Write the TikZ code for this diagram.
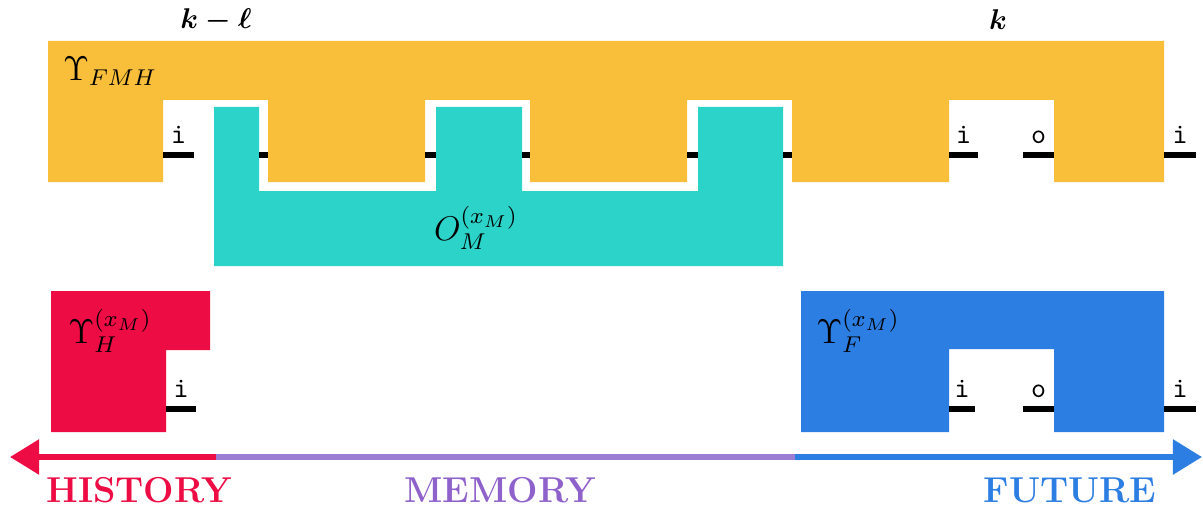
\documentclass[tikz,border=0pt]{standalone}
\usepackage{xcolor}
\usepackage{amsmath}
\usepackage{amssymb}
\usepackage{tikz}
\usetikzlibrary{arrows.meta}

\definecolor{fmhorange}{HTML}{F9BE3A}
\definecolor{memteal}{HTML}{2CD3C8}
\definecolor{histred}{HTML}{ED0C43}
\definecolor{futblue}{HTML}{2C7EE2}
\definecolor{mempurple}{HTML}{9B7ED3}
\definecolor{memtext}{HTML}{8F62CB}

\tikzset{
    wire/.style={line width=2.1pt},
    axis/.style={line width=2.1pt},
    port/.style={above, font=\ttfamily, inner sep=3pt},
    combname/.style={font=\large},
    timetip/.tip={Triangle[length=10.2pt,width=11.9pt]},
    era/.style={font=\fontsize{12.6}{15}\selectfont\bfseries}
}

\begin{document}
\begin{tikzpicture}[x=0.35pt,y=-0.35pt]
        \useasboundingbox (0,0) rectangle (1203,506);

        % combs
        \fill[fmhorange] (48,41) -- (1164,41) -- (1164,182) -- (1054,182) -- (1054,100)
            -- (949,100) -- (949,182) -- (792,182) -- (792,100) -- (687,100) -- (687,182)
            -- (530,182) -- (530,100) -- (425,100) -- (425,182) -- (268,182) -- (268,100)
            -- (163,100) -- (163,182) -- (48,182) -- cycle;
        \fill[memteal] (214,107) -- (259,107) -- (259,191) -- (436,191) -- (436,107)
            -- (522,107) -- (522,191) -- (698,191) -- (698,107) -- (783,107)
            -- (783,266) -- (214,266) -- cycle;
        \fill[histred] (51,291) -- (210,291) -- (210,350) -- (166,350) -- (166,432)
            -- (51,432) -- cycle;
        \fill[futblue] (801,291) -- (1164,291) -- (1164,432) -- (1054,432) -- (1054,349)
            -- (949,349) -- (949,432) -- (801,432) -- cycle;

        \node[combname] (fmh) at (110,71) {$\Upsilon_{FMH}$};
        \node[combname] (om) at (476,228) {$O_M^{(x_M)}$};
        \node[combname] (hist) at (110,331) {$\Upsilon_H^{(x_M)}$};
        \node[combname] (fut) at (858,331) {$\Upsilon_F^{(x_M)}$};
        \node (kl) at (216,20) {$\boldsymbol{k-\ell}$};
        \node (k) at (998,20) {$\boldsymbol{k}$};

        % wires of the upper row
        \coordinate (a1) at (163,155);
        \coordinate (a2) at (194,155);
        \coordinate (b1) at (259,155);
        \coordinate (b2) at (268,155);
        \coordinate (c1) at (425,155);
        \coordinate (c2) at (436,155);
        \coordinate (d1) at (522,155);
        \coordinate (d2) at (530,155);
        \coordinate (e1) at (687,155);
        \coordinate (e2) at (698,155);
        \coordinate (f1) at (783,155);
        \coordinate (f2) at (792,155);
        \coordinate (g1) at (949,155);
        \coordinate (g2) at (978,155);
        \coordinate (h1) at (1023,155);
        \coordinate (h2) at (1054,155);
        \coordinate (j1) at (1164,155);
        \coordinate (j2) at (1196,155);

        \draw[wire] (a1) -- node[port] {i} (a2);
        \draw[wire] (b1) -- (b2);
        \draw[wire] (c1) -- (c2);
        \draw[wire] (d1) -- (d2);
        \draw[wire] (e1) -- (e2);
        \draw[wire] (f1) -- (f2);
        \draw[wire] (g1) -- node[port] {i} (g2);
        \draw[wire] (h1) -- node[port] {o} (h2);
        \draw[wire] (j1) -- node[port] {i} (j2);

        % wires of the lower row
        \coordinate (p1) at (166,409);
        \coordinate (p2) at (196,409);
        \coordinate (q1) at (949,409);
        \coordinate (q2) at (975,409);
        \coordinate (r1) at (1023,409);
        \coordinate (r2) at (1054,409);
        \coordinate (s1) at (1164,409);
        \coordinate (s2) at (1196,409);

        \draw[wire] (p1) -- node[port] {i} (p2);
        \draw[wire] (q1) -- node[port] {i} (q2);
        \draw[wire] (r1) -- node[port] {o} (r2);
        \draw[wire] (s1) -- node[port] {i} (s2);

        % time axis
        \coordinate (past) at (10,457);
        \coordinate (hm) at (216,457);
        \coordinate (mf) at (795,457);
        \coordinate (later) at (1202,457);

        \draw[axis, histred, timetip-] (past) -- (hm);
        \draw[axis, mempurple] (hm) -- (mf);
        \draw[axis, futblue, -timetip] (mf) -- (later);

        \node[era, histred] (histlbl) at (139,490) {HISTORY};
        \node[era, memtext] (memlbl) at (500,490) {MEMORY};
        \node[era, futblue] (futlbl) at (1070,490) {FUTURE};
    \end{tikzpicture}
\end{document}
